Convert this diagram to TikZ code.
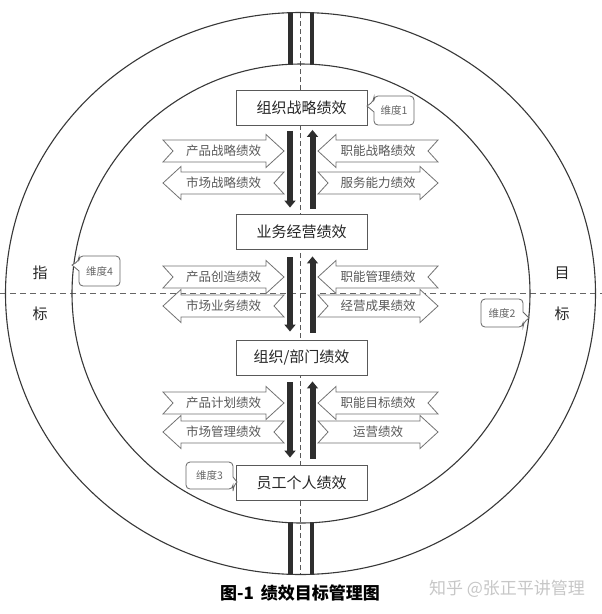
\documentclass[tikz,border=0pt]{standalone}
\usepackage{fontspec}
\setmainfont{Noto Sans CJK SC}
\usetikzlibrary{arrows.meta}
\newcommand\myRarrow[5]{%
  \draw[blk] (#2,#4-11) -- (#3-18,#4-11) -- (#3-18,#4-16.5) -- (#3,#4) -- (#3-18,#4+16.5) -- (#3-18,#4+11) -- (#2,#4+11) -- (#2+10,#4) -- cycle;
  \node[blktxt] (#1) at ({(#2+#3)/2},#4) {#5};}
\newcommand\myLarrow[5]{%
  \draw[blk] (#3,#4-11) -- (#2+18,#4-11) -- (#2+18,#4-16.5) -- (#2,#4) -- (#2+18,#4+16.5) -- (#2+18,#4+11) -- (#3,#4+11) -- (#3-10,#4) -- cycle;
  \node[blktxt] (#1) at ({(#2+#3)/2},#4) {#5};}
\begin{document}
\begin{tikzpicture}[x=1pt,y=-1pt,
  ring/.style={draw=black!78, line width=1.1pt},
  lvl/.style={draw=black!65, fill=white, line width=0.9pt, minimum width=131pt, minimum height=35pt, inner sep=0pt, font=\fontsize{15}{15}\selectfont, text=black!85},
  blk/.style={draw=black!55, fill=white, line width=0.8pt, line join=miter},
  blktxt/.style={font=\fontsize{12.5}{12.5}\selectfont, text=black!65, inner sep=0pt},
  flow/.style={line width=6pt, draw=black!82, -{Triangle[width=11pt,length=7pt]}},
  hdash/.style={draw=black!60, line width=0.9pt, dash pattern=on 6pt off 4pt},
  vdash/.style={draw=black!65, line width=0.7pt, dash pattern=on 5pt off 3pt},
  co/.style={draw=black!60, fill=white, line width=0.8pt},
  cotxt/.style={font=\fontsize{10.5}{10.5}\selectfont, text=black!60, inner sep=0pt},
  side/.style={font=\fontsize{15}{15}\selectfont, text=black!85, inner sep=0pt}]
\useasboundingbox (0,0) rectangle (602,614);
\fill[white] (0,0) rectangle (602,614);
% bars between the rings
\fill[black!82] (288,12) rectangle (292.5,65);
\fill[black!82] (309.5,12) rectangle (314,65);
\fill[black!82] (288,522) rectangle (292.5,575);
\fill[black!82] (309.5,522) rectangle (314,575);
% dashed axes
\draw[vdash] (300.5,13) -- (300.5,574);
\draw[hdash] (0,293) -- (602,293);
% rings
\draw[ring] (300.5,293.5) ellipse [x radius=295pt, y radius=281pt];
\draw[ring] (301,293.5) ellipse [x radius=229pt, y radius=229.5pt];
% level boxes
\node[lvl] (b1) at (301.5,108) {组织战略绩效};
\node[lvl] (b2) at (301.5,231.5) {业务经营绩效};
\node[lvl] (b3) at (301.5,357.5) {组织/部门绩效};
\node[lvl] (b4) at (301.5,482.5) {员工个人绩效};
% flow arrows
\draw[flow] ([xshift=-11.5pt,yshift=-5pt]b1.south) -- ([xshift=-11.5pt,yshift=6pt]b2.north);
\draw[flow] ([xshift=11pt,yshift=5pt]b2.north) -- ([xshift=11pt,yshift=-4pt]b1.south);
\draw[flow] ([xshift=-11.5pt,yshift=-8pt]b2.south) -- ([xshift=-11.5pt,yshift=8pt]b3.north);
\draw[flow] ([xshift=11pt,yshift=7pt]b3.north) -- ([xshift=11pt,yshift=-7pt]b2.south);
\draw[flow] ([xshift=-11.5pt,yshift=-7pt]b3.south) -- ([xshift=-11.5pt,yshift=7pt]b4.north);
\draw[flow] ([xshift=11pt,yshift=6pt]b4.north) -- ([xshift=11pt,yshift=-6pt]b3.south);
% block arrows, top group
\myRarrow{a1}{163}{284}{151}{产品战略绩效}
\myLarrow{a2}{163}{284}{183}{市场战略绩效}
\myLarrow{a3}{318}{438}{151}{职能战略绩效}
\myRarrow{a4}{318}{438}{183}{服务能力绩效}
% middle group
\myRarrow{a5}{163}{284}{277}{产品创造绩效}
\myLarrow{a6}{163}{284}{306}{市场业务绩效}
\myLarrow{a7}{318}{438}{277}{职能管理绩效}
\myRarrow{a8}{318}{438}{306}{经营成果绩效}
% bottom group
\myRarrow{a9}{163}{284}{403}{产品计划绩效}
\myLarrow{a10}{163}{284}{432}{市场管理绩效}
\myLarrow{a11}{318}{438}{403}{职能目标绩效}
\myRarrow{a12}{318}{438}{432}{运营绩效}
% callouts
\draw[co] (374,101) -- (367,106) -- (374,112) [rounded corners=4pt] -- (374,125) -- (414,125) -- (414,96) -- (374,96) -- cycle;
\node[cotxt] (d1) at (394,110.5) {维度1};
\draw[co] (79,261) -- (72,265) -- (79,271) [rounded corners=4pt] -- (79,286) -- (120,286) -- (120,256) -- (79,256) -- cycle;
\node[cotxt] (d4) at (99.5,271) {维度4};
\draw[co] (523,323) -- (529,318) -- (523,312) [rounded corners=4pt] -- (523,299) -- (481,299) -- (481,327) -- (523,327) -- cycle;
\node[cotxt] (d2) at (502,313) {维度2};
\draw[co] (233,487) -- (237,482) -- (233,477) [rounded corners=4pt] -- (233,462) -- (186,462) -- (186,489) -- (233,489) -- cycle;
\node[cotxt] (d3) at (209.5,475.5) {维度3};
% side labels
\node[side] (l1) at (40,273) {指};
\node[side] (l2) at (40,314) {标};
\node[side] (r1) at (562,273) {目};
\node[side] (r2) at (562,314) {标};
% caption and watermark
\node[font=\fontsize{17}{17}\selectfont\bfseries, text=black, inner sep=0pt] (cap) at (300,593) {图-1\hspace{0.4em}绩效目标管理图};
\node[font=\fontsize{17}{17}\selectfont, text=black!22, inner sep=0pt] (wm) at (507,589) {知乎 @张正平讲管理};
\end{tikzpicture}
\end{document}
